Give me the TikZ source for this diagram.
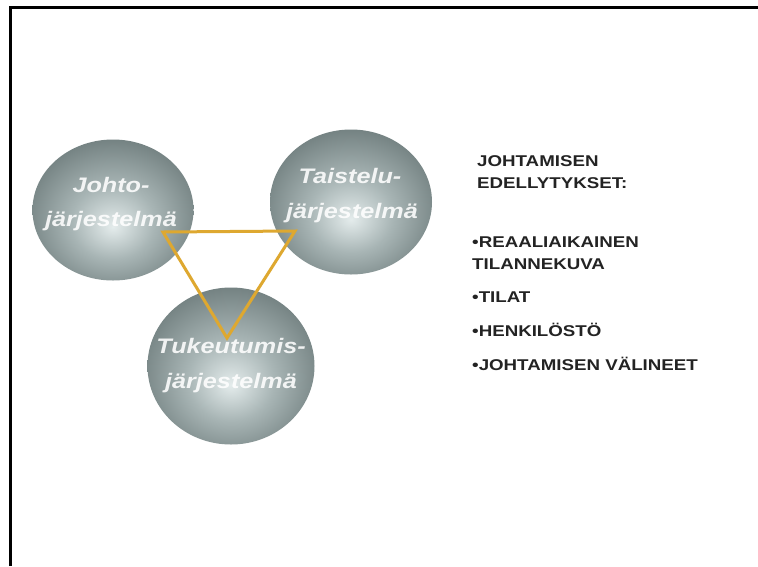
\documentclass[tikz,border=0pt]{standalone}
\usepackage{fontspec}
\setmainfont{Liberation Sans}
\newfontfamily\widefont[FakeStretch=1.2]{Liberation Sans}
\usetikzlibrary{shapes.geometric}
\definecolor{gold}{RGB}{222,168,48}
\definecolor{ballin}{RGB}{228,236,236}
\definecolor{ballmid}{RGB}{168,181,181}
\definecolor{ballout}{RGB}{112,126,126}
\definecolor{txt}{RGB}{35,35,35}
\pgfdeclareradialshading{ball}{\pgfpoint{0bp}{-6bp}}{color(0bp)=(ballin); color(13bp)=(ballmid); color(29bp)=(ballout); color(50bp)=(ballout)}
\tikzset{
  ballst/.style={ellipse, shade, shading=ball, draw=none, inner sep=0pt},
  balltext/.style={anchor=base, inner sep=0pt, text=white, text opacity=0.88,
    font=\widefont\bfseries\itshape\fontsize{21}{25}\selectfont},
  rtext/.style={anchor=base west, inner sep=0pt, text=txt,
    font=\widefont\bfseries\fontsize{15.6}{20}\selectfont},
  tri/.style={draw=gold, line width=3pt, line join=miter}
}
\begin{document}
\begin{tikzpicture}[x=1pt,y=-1pt]
\useasboundingbox (0,0) rectangle (758,566);
\fill[white] (0,0) rectangle (758,566);
\draw[line width=3pt] (10,566) -- (10,7) -- (758,7);

% balls
\node[ballst, minimum width=161pt, minimum height=141pt] (johto) at (113,210) {};
\node[ballst, minimum width=162pt, minimum height=145pt] (taistelu) at (351,202) {};
\node[ballst, minimum width=167pt, minimum height=157pt] (tuki) at (231,366) {};

% ball texts
\node[balltext] (johtoA) at (111,192) {Johto-};
\node[balltext] (johtoB) at (111,226) {järjestelmä};
\node[balltext] (taistA) at (350,183) {Taistelu-};
\node[balltext] (taistB) at (352,218) {järjestelmä};
\node[balltext] (tukiA) at (231,353) {Tukeutumis-};
\node[balltext] (tukiB) at (231,388) {järjestelmä};

% triangle
\coordinate (ta) at (163,232);
\coordinate (tb) at (295,231);
\coordinate (tc) at (227,338);
\draw[tri] (ta) -- (tb) -- (tc) -- cycle;

% right text
\node[rtext] (h1) at (477,166) {JOHTAMISEN};
\node[rtext] (h2) at (477,188) {EDELLYTYKSET:};
\node[rtext] (b1) at (472,247) {•REAALIAIKAINEN};
\node[rtext] (b1b) at (472,269) {TILANNEKUVA};
\node[rtext] (b2) at (472,302) {•TILAT};
\node[rtext] (b3) at (472,336) {•HENKILÖSTÖ};
\node[rtext] (b4) at (472,370) {•JOHTAMISEN VÄLINEET};
\end{tikzpicture}
\end{document}
